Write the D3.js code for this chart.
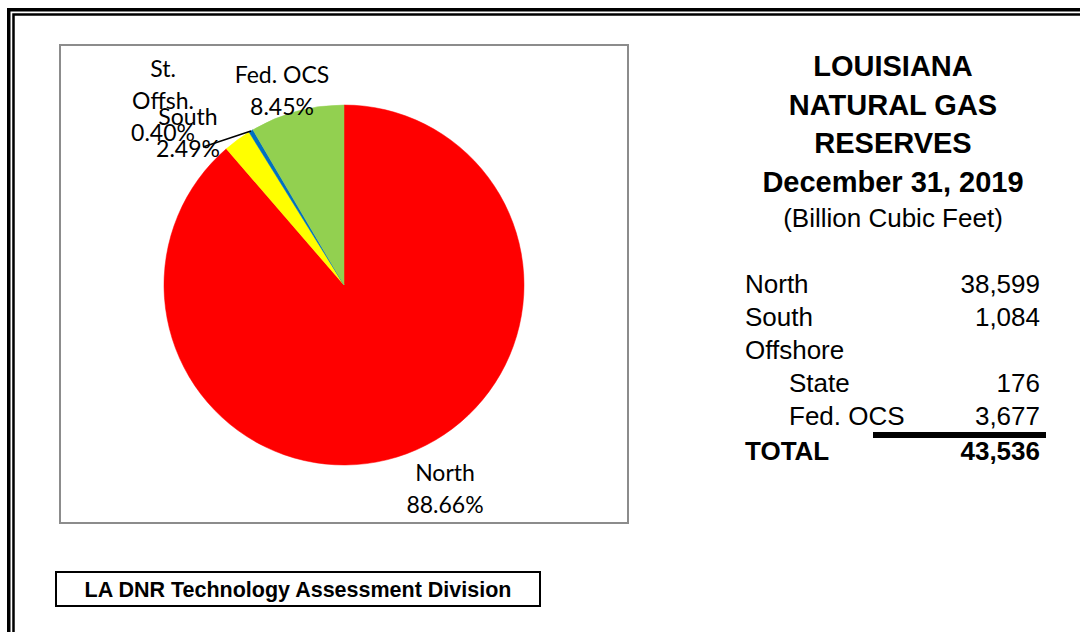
<!DOCTYPE html>
<meta charset="utf-8">
<script src="https://d3js.org/d3.v7.min.js"></script>
<style>
  body { margin: 0; background: white; }
  svg text { fill: black; }
</style>
<div id="chart"></div>
<script>
  // reserves, billion cubic feet
  var regions = ["North", "South", "St. Offsh.", "Fed. OCS"];
  var reserves = [38599, 1084, 176, 3677];
  var sliceColors = ["#ff0000", "#ffff00", "#0070c0", "#92d050"];

  var titleLines = ["LOUISIANA", "NATURAL GAS", "RESERVES", "December 31, 2019"];
  var subtitle = "(Billion Cubic Feet)";

  var tableNames = ["North", "South", "Offshore", "State", "Fed. OCS"];
  var tableValues = ["38,599", "1,084", "", "176", "3,677"];
  var tableIndent = [false, false, false, true, true];
  var totalValue = "43,536";

  var width = 1080, height = 632;

  var svg = d3.select("#chart").append("svg")
    .attr("width", width)
    .attr("height", height);

  // double page frame (runs off right and bottom)
  svg.append("rect")
    .attr("x", 8.75).attr("y", 9.75)
    .attr("width", 1200).attr("height", 1000)
    .attr("fill", "none").attr("stroke", "black").attr("stroke-width", 3.5);
  svg.append("rect")
    .attr("x", 13.5).attr("y", 14.5)
    .attr("width", 1200).attr("height", 1000)
    .attr("fill", "none").attr("stroke", "black").attr("stroke-width", 2.5);

  // plot area box
  svg.append("rect")
    .attr("x", 60).attr("y", 45)
    .attr("width", 568).attr("height", 478)
    .attr("fill", "white").attr("stroke", "#8c8c8c").attr("stroke-width", 2);

  // pie
  var cx = 344, cy = 285, radius = 180;
  var total = d3.sum(reserves);
  var pieData = d3.pie().sort(null)(reserves);
  var arc = d3.arc().innerRadius(0).outerRadius(radius);

  var pieG = svg.append("g").attr("transform", "translate(" + cx + "," + cy + ")");
  pieG.selectAll("path")
    .data(pieData)
    .enter().append("path")
      .attr("d", arc)
      .attr("fill", function(d, i) { return sliceColors[i]; })
      .attr("stroke", function(d, i) { return sliceColors[i]; })
      .attr("stroke-width", 0.5);

  // label placement relative to pie centre (offsets hand tuned to match)
  var labelPos = [[101, 196], [-156, -160], [-181, -208], [-62, -202]];
  var lineGap = 32;

  pieData.forEach(function(d, i) {
    var pct = (reserves[i] / total * 100).toFixed(2) + "%";
    var lines = regions[i] === "St. Offsh." ? ["St.", "Offsh.", pct] : [regions[i], pct];
    var t = pieG.append("text")
      .attr("text-anchor", "middle")
      .attr("font-family", "Lato, 'Noto Sans', sans-serif")
      .attr("font-size", 23)
      .attr("fill", "#111");
    lines.forEach(function(s, k) {
      t.append("tspan")
        .attr("x", labelPos[i][0])
        .attr("y", labelPos[i][1] + k * lineGap)
        .text(s);
    });
  });

  // leader line for the thin St. Offsh. slice
  var offsh = pieData[2];
  var mid = (offsh.startAngle + offsh.endAngle) / 2;
  pieG.append("line")
    .attr("x1", Math.sin(mid) * radius)
    .attr("y1", -Math.cos(mid) * radius)
    .attr("x2", -141)
    .attr("y2", -138)
    .attr("stroke", "black")
    .attr("stroke-width", 1.5);

  // title block
  var titleX = 893;
  titleLines.forEach(function(s, i) {
    svg.append("text")
      .attr("x", titleX).attr("y", 76 + i * 38.7)
      .attr("text-anchor", "middle")
      .attr("font-family", "'Liberation Sans', Arial, sans-serif")
      .attr("font-weight", "bold")
      .attr("font-size", 29)
      .text(s);
  });
  svg.append("text")
    .attr("x", titleX).attr("y", 227)
    .attr("text-anchor", "middle")
    .attr("font-family", "'Liberation Sans', Arial, sans-serif")
    .attr("font-size", 26)
    .text(subtitle);

  // reserves table
  var rowY = d3.scaleLinear().domain([0, 1]).range([293, 326]);
  var tbl = svg.append("g")
    .attr("font-family", "'Liberation Sans', Arial, sans-serif")
    .attr("font-size", 26);
  tableNames.forEach(function(s, i) {
    tbl.append("text")
      .attr("x", tableIndent[i] ? 789 : 745)
      .attr("y", rowY(i))
      .text(s);
    tbl.append("text")
      .attr("x", 1040).attr("y", rowY(i))
      .attr("text-anchor", "end")
      .text(tableValues[i]);
  });
  tbl.append("rect")
    .attr("x", 873).attr("y", 432)
    .attr("width", 173).attr("height", 6)
    .attr("fill", "black");
  tbl.append("text")
    .attr("x", 745).attr("y", rowY(5) + 2)
    .attr("font-weight", "bold")
    .text("TOTAL");
  tbl.append("text")
    .attr("x", 1040).attr("y", rowY(5) + 2)
    .attr("text-anchor", "end")
    .attr("font-weight", "bold")
    .text(totalValue);

  // footer box
  svg.append("rect")
    .attr("x", 56).attr("y", 572)
    .attr("width", 484).attr("height", 34)
    .attr("fill", "white").attr("stroke", "black").attr("stroke-width", 2);
  svg.append("text")
    .attr("x", 298).attr("y", 597)
    .attr("text-anchor", "middle")
    .attr("font-family", "'Liberation Sans', Arial, sans-serif")
    .attr("font-weight", "bold")
    .attr("font-size", 21.5)
    .text("LA DNR Technology Assessment Division");
</script>
</html>
